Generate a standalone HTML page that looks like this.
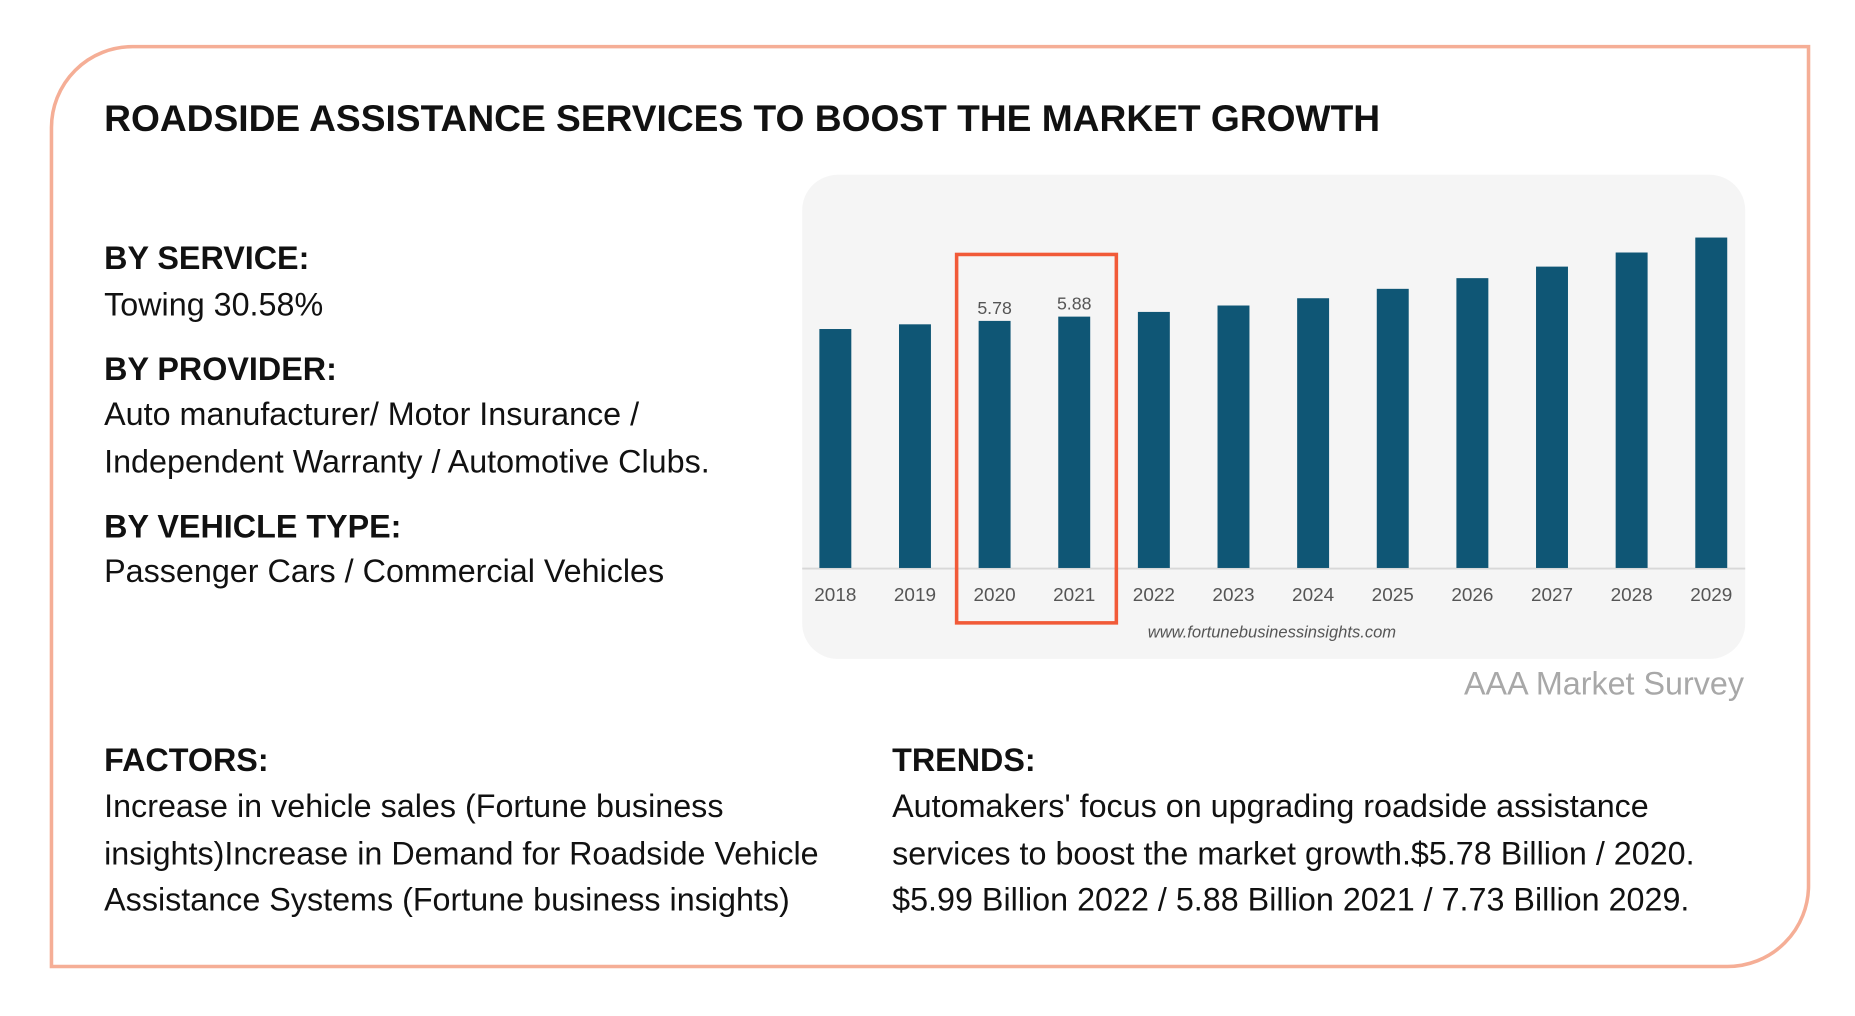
<!DOCTYPE html>
<html><head><meta charset="utf-8">
<style>
html,body{margin:0;padding:0;background:#fff;width:1855px;height:1016px;overflow:hidden}
#wrap{position:absolute;left:0;top:0;width:1560px;height:855px;transform:scale(1.1832,1.1808);transform-origin:0 0;font-family:"Liberation Sans",Arial,sans-serif;color:#111}
.card{position:absolute;left:42px;top:38px;width:1482px;height:776px;border:3px solid #f5ae96;border-radius:70px 0 70px 0}
.t{position:absolute;white-space:nowrap}
.h{font-weight:bold;font-size:27.3px}
.b{font-size:27.3px;line-height:39.5px}
</style></head><body>
<div id="wrap">
<div class="card"></div>
<div class="t" style="left:88px;top:83px;font-size:31.4px;font-weight:bold">ROADSIDE ASSISTANCE SERVICES TO BOOST THE MARKET GROWTH</div>
<div class="t h" style="left:88px;top:203px">BY SERVICE:</div>
<div class="t b" style="left:88px;top:238px">Towing 30.58%</div>
<div class="t h" style="left:88px;top:297px">BY PROVIDER:</div>
<div class="t b" style="left:88px;top:331px">Auto manufacturer/ Motor Insurance /<br>Independent Warranty / Automotive Clubs.</div>
<div class="t h" style="left:88px;top:430px">BY VEHICLE TYPE:</div>
<div class="t b" style="left:88px;top:464px">Passenger Cars / Commercial Vehicles</div>
<div class="t h" style="left:88px;top:628px">FACTORS:</div>
<div class="t b" style="left:88px;top:663px">Increase in vehicle sales (Fortune business<br>insights)Increase in Demand for Roadside Vehicle<br>Assistance Systems (Fortune business insights)</div>
<div class="t h" style="left:754px;top:628px">TRENDS:</div>
<div class="t b" style="left:754px;top:663px">Automakers' focus on upgrading roadside assistance<br>services to boost the market growth.$5.78 Billion / 2020.<br>$5.99 Billion 2022 / 5.88 Billion 2021 / 7.73 Billion 2029.</div>
<div class="t" style="right:86px;top:563px;font-size:27.3px;color:#a8a8a8">AAA Market Survey</div>
<svg id="chart" style="position:absolute;left:0;top:0" width="1560" height="855">
<rect x="678" y="148" width="797" height="410" rx="30" fill="#f5f5f5"/>
<line x1="678" x2="1475" y1="481.5" y2="481.5" stroke="#d8d8d8" stroke-width="1.5"/>
<g id="bars"></g>
<rect x="808.5" y="215.5" width="135" height="312" fill="none" stroke="#f15a38" stroke-width="3"/>
<text x="1075" y="540" text-anchor="middle" font-size="14" font-style="italic" fill="#555">www.fortunebusinessinsights.com</text>
</svg>
</div>
<script>
const years=["2018","2019","2020","2021","2022","2023","2024","2025","2026","2027","2028","2029"];
const values=[5.59,5.70,5.78,5.88,5.99,6.14,6.31,6.53,6.78,7.05,7.38,7.73];
const labeled=["","","5.78","5.88","","","","","","","",""];
const NS="http://www.w3.org/2000/svg";
const x0=706,step=67.3,base=481,pxPerUnit=36.2,bw=27;
function xPos(i){return x0+i*step;}
function yPos(v){return base-v*pxPerUnit;}
const g=document.getElementById('bars');
years.forEach((yr,i)=>{
  const r=document.createElementNS(NS,'rect');
  r.setAttribute('x',xPos(i)-bw/2);r.setAttribute('y',yPos(values[i]));
  r.setAttribute('width',bw);r.setAttribute('height',base-yPos(values[i]));
  r.setAttribute('fill','#0f5675');
  
  
  g.appendChild(r);
  const t=document.createElementNS(NS,'text');
  t.setAttribute('x',xPos(i));t.setAttribute('y',509);
  t.setAttribute('text-anchor','middle');t.setAttribute('font-size','16');t.setAttribute('fill','#555');
  t.textContent=yr;
  
  
  g.appendChild(t);
  if(labeled[i]){
    const l=document.createElementNS(NS,'text');
    l.setAttribute('x',xPos(i));l.setAttribute('y',yPos(values[i])-6);
    l.setAttribute('text-anchor','middle');l.setAttribute('font-size','15');l.setAttribute('fill','#555');
    l.textContent=labeled[i];
    
    
    g.appendChild(l);
  }
});
</script>
</body></html>
